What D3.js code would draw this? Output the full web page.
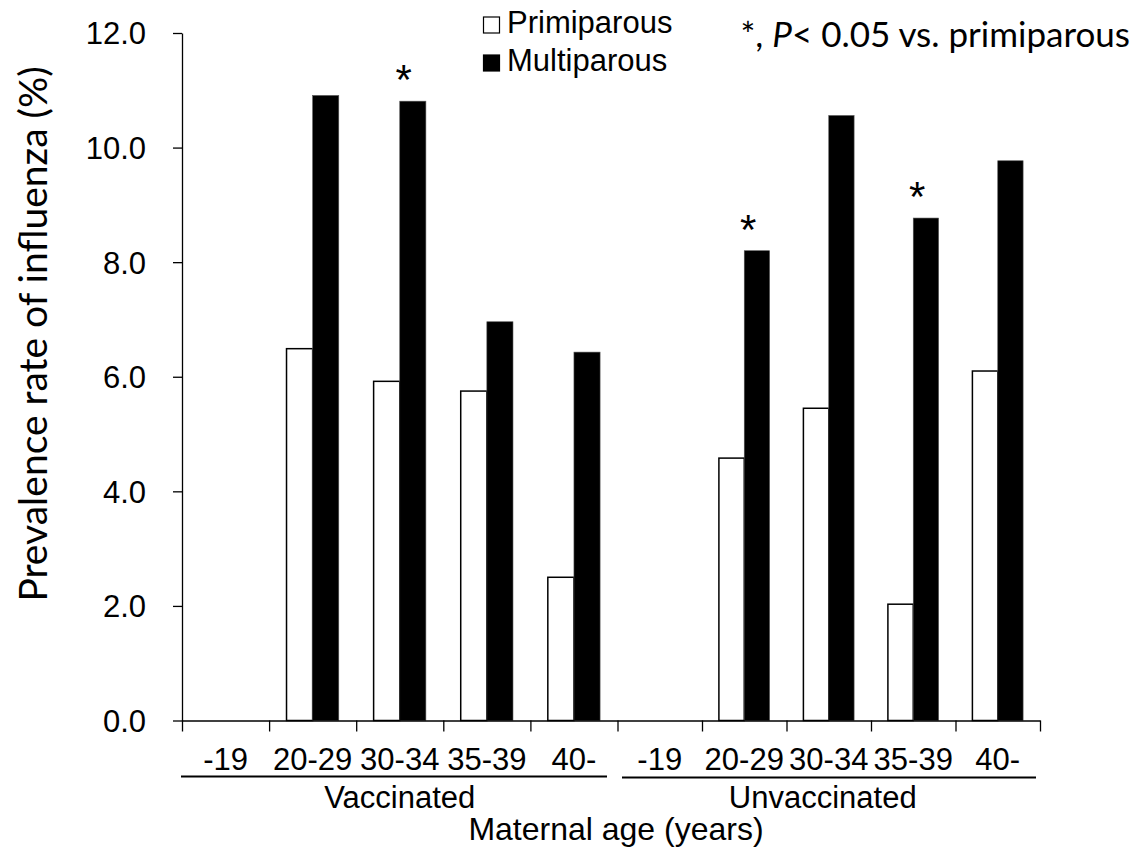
<!DOCTYPE html>
<html>
<head>
  <style>
    body { margin: 0; background: white; }
    svg { display: block; }
    .tick-label, .axis text { font-family: "Liberation Sans", Arial, sans-serif; font-size: 31px; fill: #000; }
    .humanist { font-family: Lato, "Open Sans", sans-serif; fill: #000; }
    .axis path, .axis line { stroke: #000; stroke-width: 1.3px; }
  </style>
</head>
<body>
  <div id="chart"></div>

  <script src="https://cdnjs.cloudflare.com/ajax/libs/d3/7.8.5/d3.min.js"></script>
  <script>
    // data (null = no bar)
    const ageGroups = ["-19", "20-29", "30-34", "35-39", "40-"];
    const vaccGroups = ["Vaccinated", "Unvaccinated"];
    const primiVacc   = [null, 6.49, 5.92, 5.75, 2.50];
    const multiVacc   = [null, 10.91, 10.81, 6.96, 6.43];
    const primiUnvacc = [null, 4.58, 5.45, 2.03, 6.10];
    const multiUnvacc = [null, 8.20, 10.56, 8.77, 9.77];
    const yTicks = [0, 2, 4, 6, 8, 10, 12];
    // significant differences (multiparous vs primiparous)
    const starred = [["Vaccinated", "30-34"], ["Unvaccinated", "20-29"], ["Unvaccinated", "35-39"]];

    const width = 1138, height = 861;

    const svg = d3.select("#chart").append("svg")
      .attr("width", width)
      .attr("height", height);

    // category index -> x, the two halves of the axis are drawn slightly unequal
    const x = d3.scaleLinear().domain([0, 5, 10]).range([182, 617.5, 1040]);
    const y = d3.scaleLinear().domain([0, 12]).range([720.5, 33]);

    // flatten to one row per (group, age)
    const rows = [];
    vaccGroups.forEach((g, gi) => {
      const primi = gi === 0 ? primiVacc : primiUnvacc;
      const multi = gi === 0 ? multiVacc : multiUnvacc;
      ageGroups.forEach((a, ai) => {
        rows.push({ group: g, age: a, idx: gi * 5 + ai, primi: primi[ai], multi: multi[ai] });
      });
    });

    const barFrac = 0.3;
    const bars = svg.append("g");
    rows.forEach(d => {
      const x0 = x(d.idx), x1 = x(d.idx + 1);
      const mid = (x0 + x1) / 2, bw = (x1 - x0) * barFrac;
      if (d.primi != null) {
        bars.append("rect")
          .attr("x", mid - bw).attr("width", bw)
          .attr("y", y(d.primi)).attr("height", y(0) - y(d.primi))
          .attr("fill", "#fff").attr("stroke", "#000").attr("stroke-width", 1.5);
      }
      if (d.multi != null) {
        bars.append("rect")
          .attr("x", mid).attr("width", bw)
          .attr("y", y(d.multi)).attr("height", y(0) - y(d.multi))
          .attr("fill", "#000").attr("stroke", "#555").attr("stroke-width", 0.6);
      }
    });

    // asterisks
    starred.forEach(([g, a]) => {
      const d = rows.find(r => r.group === g && r.age === a);
      const mid = (x(d.idx) + x(d.idx + 1)) / 2;
      svg.append("text")
        .attr("x", mid + 4)
        .attr("y", y(d.multi) - 7)
        .attr("text-anchor", "middle")
        .style("font-family", "'Liberation Sans', Arial, sans-serif")
        .style("font-size", "42px")
        .text("*");
    });

    // y axis
    svg.append("g")
      .attr("class", "axis")
      .attr("transform", "translate(182,0)")
      .call(d3.axisLeft(y).tickValues(yTicks).tickFormat(d3.format(".1f")).tickSize(9).tickSizeOuter(0).tickPadding(27))
      .call(g => g.selectAll(".tick text").attr("dy", "0.35em"));

    // x axis (ticks on category boundaries)
    svg.append("g")
      .attr("class", "axis")
      .attr("transform", `translate(0,${y(0)})`)
      .call(d3.axisBottom(x).tickValues(d3.range(0, 11)).tickFormat("").tickSize(11).tickSizeOuter(0));

    // age labels
    svg.append("g").selectAll("text")
      .data(rows)
      .join("text")
      .attr("class", "tick-label")
      .attr("x", d => (x(d.idx) + x(d.idx + 1)) / 2)
      .attr("y", 770)
      .attr("text-anchor", "middle")
      .text(d => d.age);

    // group underlines + labels
    const groupSpans = [[181, 607], [622, 1036]];
    vaccGroups.forEach((g, gi) => {
      const [a, b] = groupSpans[gi];
      svg.append("line")
        .attr("x1", a).attr("x2", b)
        .attr("y1", 776.5 + gi).attr("y2", 776.5 + gi)
        .attr("stroke", "#000").attr("stroke-width", 1.8);
      svg.append("text")
        .attr("class", "tick-label")
        .attr("x", (x(gi * 5) + x(gi * 5 + 5)) / 2 - gi * 6)
        .attr("y", 808)
        .attr("text-anchor", "middle")
        .text(g);
    });

    svg.append("text")
      .attr("class", "tick-label")
      .style("font-size", "32px")
      .attr("x", 616)
      .attr("y", 840)
      .attr("text-anchor", "middle")
      .text("Maternal age (years)");

    // y axis title
    svg.append("text")
      .attr("class", "humanist")
      .attr("transform", "translate(47,334) rotate(-90)")
      .attr("text-anchor", "middle")
      .style("font-size", "39px")
      .text("Prevalence rate of influenza (%)");

    // legend
    const legend = svg.append("g");
    const legendItems = [
      { label: "Primiparous", fill: "#fff", y: 33 },
      { label: "Multiparous", fill: "#000", y: 71 }
    ];
    legendItems.forEach(it => {
      legend.append("rect")
        .attr("x", 483.5).attr("y", it.y - 16)
        .attr("width", 16).attr("height", 16)
        .attr("fill", it.fill).attr("stroke", "#000").attr("stroke-width", 1.2);
      legend.append("text")
        .attr("class", "tick-label")
        .attr("x", 507).attr("y", it.y)
        .text(it.label);
    });

    // significance note
    const note = svg.append("text")
      .attr("class", "humanist")
      .attr("x", 1130).attr("y", 47)
      .attr("text-anchor", "end")
      .style("font-size", "35px");
    note.append("tspan").text("*, ");
    note.append("tspan").style("font-style", "italic").text("P");
    note.append("tspan").text("< 0.05 vs. primiparous");
  </script>
</body>
</html>
